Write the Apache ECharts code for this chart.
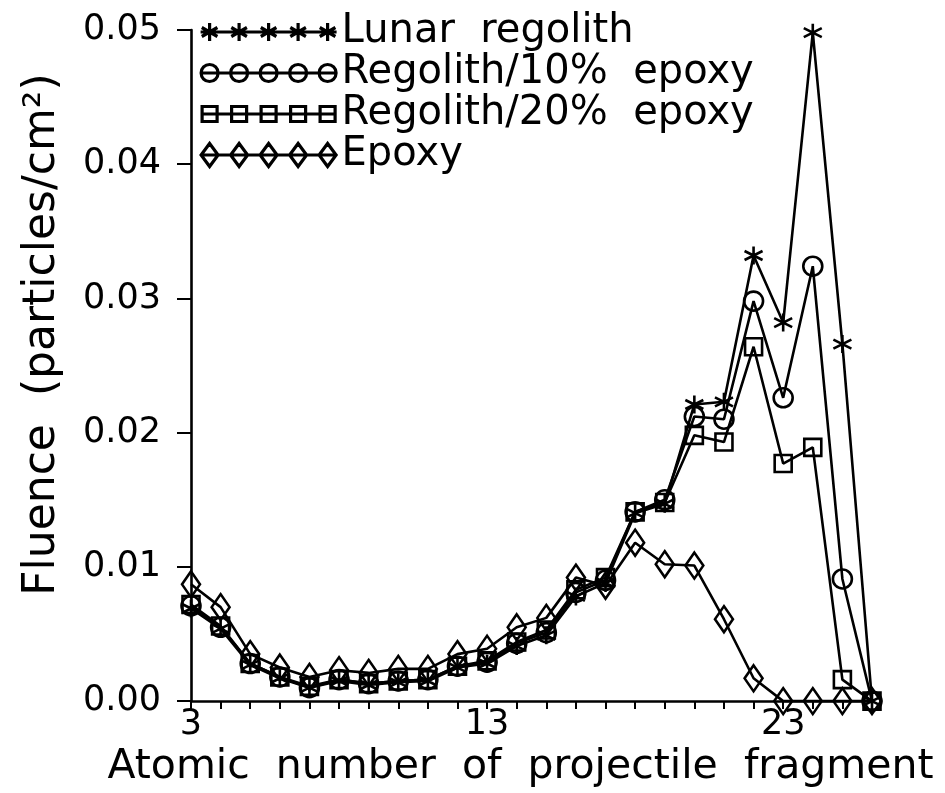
<!DOCTYPE html>
<html>
<head>
<meta charset="utf-8">
<script src="https://cdn.jsdelivr.net/npm/echarts@6/dist/echarts.min.js"></script>
<style>html,body{margin:0;padding:0;background:#fff}#c{width:945px;height:793px}</style>
</head>
<body>
<div id="c"></div>
<script>
// ---- data ----
var atomicNumbers = [3,4,5,6,7,8,9,10,11,12,13,14,15,16,17,18,19,20,21,22,23,24,25,26];
var lunarRegolith = [0.0069,0.0054,0.0027,0.0017,0.0010,0.0015,0.0012,0.0014,0.0015,0.0025,0.0028,0.0041,0.0049,0.0078,0.0088,0.0140,0.0147,0.0221,0.0223,0.0332,0.0282,0.0498,0.0266,0.0000];
var regolith10 = [0.0071,0.0055,0.0028,0.0018,0.0010,0.0016,0.0013,0.0015,0.0016,0.0026,0.0029,0.0043,0.0051,0.0081,0.0090,0.0141,0.0150,0.0212,0.0210,0.0298,0.0226,0.0324,0.0091,0.0000];
var regolith20 = [0.0072,0.0056,0.0028,0.0018,0.0011,0.0016,0.0013,0.0015,0.0016,0.0026,0.0030,0.0044,0.0053,0.0083,0.0092,0.0141,0.0148,0.0198,0.0193,0.0264,0.0177,0.0189,0.0016,0.0000];
var epoxy = [0.0087,0.0070,0.0035,0.0025,0.0018,0.0023,0.0021,0.0024,0.0024,0.0035,0.0039,0.0055,0.0062,0.0092,0.0086,0.0118,0.0102,0.0101,0.0061,0.0017,0.0000,0.0000,0.0000,0.0000];
var seriesNames = ['Lunar  regolith','Regolith/10%  epoxy','Regolith/20%  epoxy','Epoxy'];
var xTickLabels = [3,13,23];
var yTickLabels = ['0.00','0.01','0.02','0.03','0.04','0.05'];

function pairs(vals){ return atomicNumbers.map(function(z,i){ return [z, vals[i]]; }); }

var starPath = 'path://M0,-10L0,10M-8.66,-5L8.66,5M-8.66,5L8.66,-5';

// legend icons: a line with five markers (icon geometry only)
var LW = 136, LH = 24;
function legendIcon(kind){
  var p = 'M0,0L0,0M' + LW + ',' + LH + 'L' + LW + ',' + LH + 'M0,' + (LH/2) + 'L' + LW + ',' + (LH/2);
  for (var i = 0; i < 5; i++){
    var cx = 9 + i * (LW - 18) / 4, cy = LH/2;
    if (kind === 'star'){
      p += 'M' + cx + ',' + (cy-9) + 'L' + cx + ',' + (cy+9);
      p += 'M' + (cx-7.8) + ',' + (cy-4.5) + 'L' + (cx+7.8) + ',' + (cy+4.5);
      p += 'M' + (cx-7.8) + ',' + (cy+4.5) + 'L' + (cx+7.8) + ',' + (cy-4.5);
    } else if (kind === 'circle'){
      var r = 8.5;
      p += 'M' + (cx-r) + ',' + cy + 'A' + r + ',' + r + ',0,1,0,' + (cx+r) + ',' + cy + 'A' + r + ',' + r + ',0,1,0,' + (cx-r) + ',' + cy + 'Z';
    } else if (kind === 'rect'){
      var h = 7.5;
      p += 'M' + (cx-h) + ',' + (cy-h) + 'L' + (cx+h) + ',' + (cy-h) + 'L' + (cx+h) + ',' + (cy+h) + 'L' + (cx-h) + ',' + (cy+h) + 'Z';
    } else {
      p += 'M' + cx + ',' + (cy-11.5) + 'L' + (cx+8.5) + ',' + cy + 'L' + cx + ',' + (cy+11.5) + 'L' + (cx-8.5) + ',' + cy + 'Z';
    }
  }
  return 'path://' + p;
}

var FONT = 'DejaVu Sans';
var markStyle = {color: 'rgba(0,0,0,0)', borderColor: '#000', borderWidth: 2.6};
var lineStyle = {color: '#000', width: 2.6};

function mkSeries(name, vals, symbol, size){
  return {
    name: name, type: 'line', data: pairs(vals),
    symbol: symbol, symbolSize: size, showAllSymbol: true,
    itemStyle: markStyle, lineStyle: lineStyle,
    animation: false, silent: true, z: 2
  };
}

var chart = echarts.init(document.getElementById('c'), null, {renderer: 'canvas'});
chart.setOption({
  backgroundColor: '#fff',
  animation: false,
  grid: {left: 191, right: 73, top: 30, bottom: 91, containLabel: false},
  legend: {
    orient: 'vertical', left: 194, top: 7,
    itemWidth: LW, itemHeight: LH, itemGap: 1,
    selectedMode: false,
    textStyle: {fontFamily: FONT, fontSize: 40, color: '#000'},
    itemStyle: {color: 'rgba(0,0,0,0)', borderColor: '#000', borderWidth: 3.2},
    data: [
      {name: seriesNames[0], icon: legendIcon('star')},
      {name: seriesNames[1], icon: legendIcon('circle')},
      {name: seriesNames[2], icon: legendIcon('rect')},
      {name: seriesNames[3], icon: legendIcon('diamond')}
    ]
  },
  xAxis: {
    type: 'value', min: 3, max: 26, interval: 1,
    name: 'Atomic  number  of  projectile  fragment',
    nameLocation: 'middle', nameGap: 36,
    nameTextStyle: {fontFamily: FONT, fontSize: 41, color: '#000', padding: [0, 22, 0, 0]},
    axisLine: {show: true, lineStyle: {color: '#000', width: 2.6}},
    axisTick: {show: true, length: 8, lineStyle: {color: '#000', width: 2}},
    splitLine: {show: false},
    axisLabel: {
      fontFamily: FONT, fontSize: 35, color: '#000', margin: 6,
      formatter: function(v){ return xTickLabels.indexOf(v) >= 0 ? String(v) : ''; }
    }
  },
  yAxis: {
    type: 'value', min: 0, max: 0.05, interval: 0.01,
    name: 'Fluence  (particles/cm²)',
    nameLocation: 'middle', nameGap: 126,
    nameTextStyle: {fontFamily: FONT, fontSize: 44, color: '#000', padding: [0,0,0,62]},
    axisLine: {show: true, lineStyle: {color: '#000', width: 2.6}},
    axisTick: {show: true, length: 14, lineStyle: {color: '#000', width: 2}},
    splitLine: {show: false},
    axisLabel: {
      fontFamily: FONT, fontSize: 35, color: '#000', margin: 30,
      formatter: function(v){ return yTickLabels[Math.round(v / 0.01)]; }
    }
  },
  series: [
    mkSeries(seriesNames[0], lunarRegolith, starPath, 18),
    mkSeries(seriesNames[1], regolith10, 'circle', 19),
    mkSeries(seriesNames[2], regolith20, 'rect', 17),
    mkSeries(seriesNames[3], epoxy, 'diamond', [18, 26])
  ]
});
</script>
</body>
</html>
